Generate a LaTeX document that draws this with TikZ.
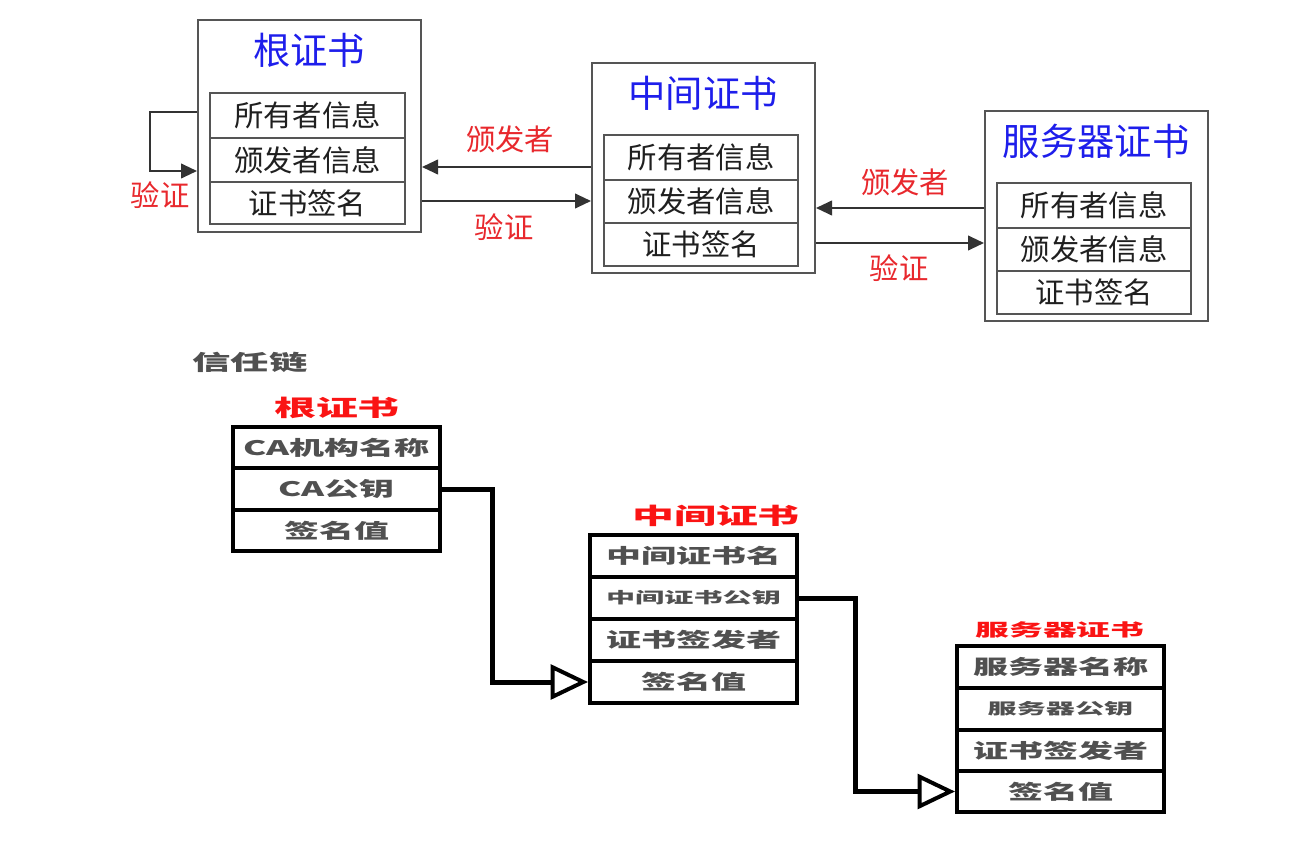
\documentclass[tikz,border=0pt]{standalone}
\usepackage{fontspec}
\usepackage{graphicx}
\newfontfamily\cjk{Noto Sans CJK SC}
\usetikzlibrary{arrows.meta,fit}
\definecolor{tblue}{RGB}{30,30,235}
\definecolor{tred}{RGB}{232,40,45}
\definecolor{bred}{RGB}{250,20,20}
\definecolor{bgray}{RGB}{80,80,80}
\definecolor{bline}{RGB}{85,85,85}
\newcommand\bt[2]{\scalebox{#1}[1]{#2}}
\begin{document}
\begin{tikzpicture}[x=0.75pt,y=-0.75pt,
  outer/.style={draw=bline, line width=1.5pt, inner sep=0pt},
  cell/.style={draw=bline, line width=1.5pt, inner sep=0pt},
  ctext/.style={inner sep=0pt, text=black!88, font=\cjk\fontsize{22}{22}\selectfont},
  ttl/.style={inner sep=0pt, text=tblue, font=\cjk\fontsize{28}{28}\selectfont},
  lbl/.style={inner sep=0pt, text=tred, font=\cjk\fontsize{22}{22}\selectfont},
  arr/.style={draw=black!80, line width=1.5pt, -{Triangle[length=12pt,width=11pt]}},
  bcell/.style={draw=black, line width=3pt, inner sep=0pt},
  btext/.style={inner sep=0pt, text=bgray, font=\cjk\bfseries\fontsize{15}{15}\selectfont},
  bttl/.style={inner sep=0pt, text=bred, font=\cjk\bfseries\fontsize{17}{17}\selectfont},
  gttl/.style={inner sep=0pt, text=bgray, font=\cjk\bfseries\fontsize{16}{16}\selectfont},
  barr/.style={draw=black, line width=3.75pt, -{Triangle[open,length=28pt,width=26pt,line width=3pt]}}
]
\useasboundingbox (0,0) rectangle (1290,863);

% ---- top: root certificate
\node[outer, fit={(198,20)(421,232)}] (R) {};
\node[ttl] (Rt) at (309,50) {根证书};
\node[cell, fit={(210,93)(405,138)}, label={[ctext]center:所有者信息}] (R1) {};
\node[cell, fit={(210,138)(405,182)}, label={[ctext]center:颁发者信息}] (R2) {};
\node[cell, fit={(210,182)(405,224)}, label={[ctext]center:证书签名}] (R3) {};

% ---- top: intermediate certificate
\node[outer, fit={(592,63)(815,273)}] (M) {};
\node[ttl] (Mt) at (703,93) {中间证书};
\node[cell, fit={(604,135)(798,180)}, label={[ctext]center:所有者信息}] (M1) {};
\node[cell, fit={(604,180)(798,223)}, label={[ctext]center:颁发者信息}] (M2) {};
\node[cell, fit={(604,223)(798,266)}, label={[ctext]center:证书签名}] (M3) {};

% ---- top: server certificate
\node[outer, fit={(985,111)(1208,321)}] (S) {};
\node[ttl] (St) at (1096,141) {服务器证书};
\node[cell, fit={(997,183)(1191,228)}, label={[ctext]center:所有者信息}] (S1) {};
\node[cell, fit={(997,228)(1191,271)}, label={[ctext]center:颁发者信息}] (S2) {};
\node[cell, fit={(997,271)(1191,314)}, label={[ctext]center:证书签名}] (S3) {};

% ---- top connectors
\coordinate (lp1) at (150,112);
\coordinate (lp2) at (0,171);
\coordinate (yA) at (0,167);
\coordinate (yB) at (0,201);
\coordinate (yC) at (0,208);
\coordinate (yD) at (0,243);
\draw[arr] (R.west |- lp1) -- (lp1) |- (R.west |- lp2);
\draw[arr] (M.west |- yA) -- (R.east |- yA);
\draw[arr] (R.east |- yB) -- (M.west |- yB);
\draw[arr] (S.west |- yC) -- (M.east |- yC);
\draw[arr] (M.east |- yD) -- (S.west |- yD);

\node[lbl] (L1) at (160,195) {验证};
\node[lbl] (L2) at (510,139) {颁发者};
\node[lbl] (L3) at (504,227) {验证};
\node[lbl] (L4) at (905,182) {颁发者};
\node[lbl] (L5) at (899,268) {验证};

% ---- bottom: chain of trust
\node[gttl] (chain) at (250,362) {\bt{1.8}{信任链}};

\node[bttl] (rt) at (337,408) {\bt{1.85}{根证书}};
\node[bcell, fit={(233,427)(440,468)}, label={[btext]center:\bt{1.75}{CA机构名称}}] (r1) {};
\node[bcell, fit={(233,468)(440,510)}, label={[btext]center:\bt{1.75}{CA公钥}}] (r2) {};
\node[bcell, fit={(233,510)(440,551)}, label={[btext]center:\bt{1.75}{签名值}}] (r3) {};

\node[bttl] (mt) at (716,516) {\bt{1.85}{中间证书}};
\node[bcell, fit={(590,535)(797,577)}, label={[btext]center:\bt{1.75}{中间证书名}}] (m1) {};
\node[bcell, fit={(590,577)(797,619)}, label={[btext]center:\bt{1.9}{\fontsize{11.5}{11.5}\selectfont 中间证书公钥}}] (m2) {};
\node[bcell, fit={(590,619)(797,661)}, label={[btext]center:\bt{1.75}{证书签发者}}] (m3) {};
\node[bcell, fit={(590,661)(797,703)}, label={[btext]center:\bt{1.75}{签名值}}] (m4) {};

\node[bttl] (st) at (1060,630) {\bt{1.95}{\fontsize{13}{13}\selectfont 服务器证书}};
\node[bcell, fit={(957,646)(1164,688)}, label={[btext]center:\bt{1.75}{服务器名称}}] (s1) {};
\node[bcell, fit={(957,688)(1164,730)}, label={[btext]center:\bt{1.9}{\fontsize{11.5}{11.5}\selectfont 服务器公钥}}] (s2) {};
\node[bcell, fit={(957,730)(1164,771)}, label={[btext]center:\bt{1.75}{证书签发者}}] (s3) {};
\node[bcell, fit={(957,771)(1164,812)}, label={[btext]center:\bt{1.75}{签名值}}] (s4) {};

\draw[barr] (r2.east) -- ++(50,0) |- (m4.west);
\draw[barr] (m2.east) -- ++(56,0) |- (s4.west);
\end{tikzpicture}
\end{document}
